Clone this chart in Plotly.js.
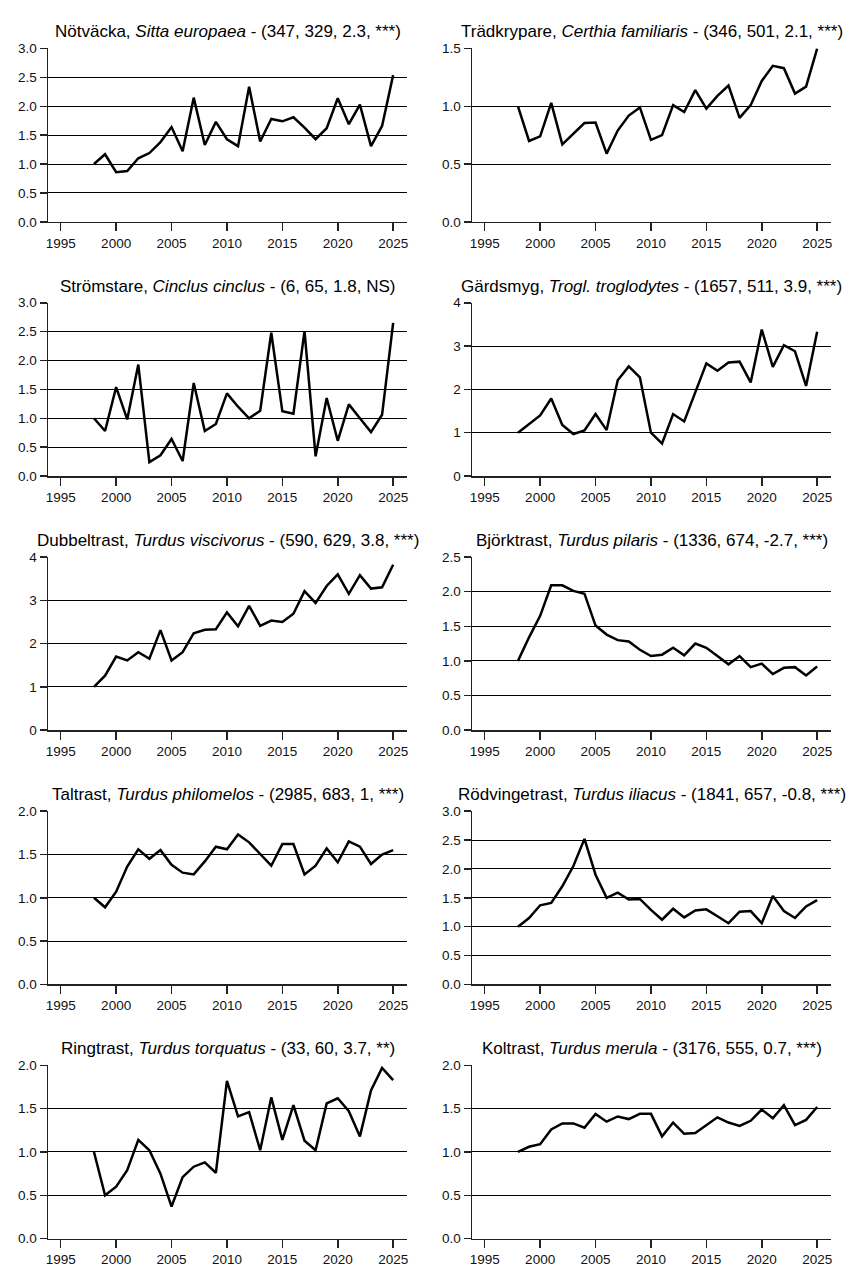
<!DOCTYPE html>
<html>
<head>
<meta charset="utf-8">
<script src="https://cdn.plot.ly/plotly-3.0.1.min.js"></script>
<style>html,body{margin:0;padding:0;background:#fff;}#chart{width:848px;height:1272px;}</style>
</head>
<body>
<div id="chart"></div>
<script>
const years = [1998,1999,2000,2001,2002,2003,2004,2005,2006,2007,2008,2009,2010,2011,2012,2013,2014,2015,2016,2017,2018,2019,2020,2021,2022,2023,2024,2025];

const titles = [
  "Nötväcka, <i>Sitta europaea</i> - (347, 329, 2.3, ***)",
  "Trädkrypare, <i>Certhia familiaris</i> - (346, 501, 2.1, ***)",
  "Strömstare, <i>Cinclus cinclus</i> - (6, 65, 1.8, NS)",
  "Gärdsmyg, <i>Trogl. troglodytes</i> - (1657, 511, 3.9, ***)",
  "Dubbeltrast, <i>Turdus viscivorus</i> - (590, 629, 3.8, ***)",
  "Björktrast, <i>Turdus pilaris</i> - (1336, 674, -2.7, ***)",
  "Taltrast, <i>Turdus philomelos</i> - (2985, 683, 1, ***)",
  "Rödvingetrast, <i>Turdus iliacus</i> - (1841, 657, -0.8, ***)",
  "Ringtrast, <i>Turdus torquatus</i> - (33, 60, 3.7, **)",
  "Koltrast, <i>Turdus merula</i> - (3176, 555, 0.7, ***)"
];

const notvacka     = [1.00,1.17,0.86,0.88,1.10,1.19,1.38,1.64,1.22,2.15,1.33,1.73,1.43,1.31,2.34,1.39,1.78,1.74,1.81,1.63,1.43,1.62,2.14,1.69,2.03,1.31,1.66,2.54];
const tradkrypare  = [1.00,0.70,0.74,1.03,0.67,0.76,0.855,0.86,0.59,0.79,0.92,0.99,0.71,0.75,1.01,0.95,1.14,0.98,1.09,1.18,0.90,1.01,1.22,1.35,1.33,1.11,1.17,1.50];
const stromstare   = [1.00,0.78,1.54,0.98,1.93,0.24,0.36,0.64,0.26,1.61,0.78,0.90,1.43,1.20,1.00,1.13,2.48,1.12,1.08,2.51,0.34,1.35,0.61,1.24,1.00,0.76,1.06,2.65];
const gardsmyg     = [1.00,1.20,1.40,1.79,1.18,0.97,1.05,1.43,1.06,2.21,2.53,2.28,1.00,0.75,1.43,1.26,1.95,2.60,2.43,2.62,2.64,2.16,3.38,2.52,3.02,2.88,2.08,3.33];
const dubbeltrast  = [1.00,1.26,1.70,1.61,1.80,1.65,2.31,1.61,1.80,2.24,2.32,2.33,2.72,2.40,2.87,2.41,2.53,2.50,2.69,3.21,2.94,3.33,3.60,3.15,3.58,3.27,3.30,3.82];
const bjorktrast   = [1.00,1.34,1.65,2.09,2.09,2.01,1.97,1.51,1.38,1.30,1.28,1.16,1.07,1.09,1.19,1.08,1.25,1.19,1.07,0.95,1.07,0.91,0.96,0.81,0.90,0.91,0.79,0.92];
const taltrast     = [1.00,0.89,1.07,1.36,1.56,1.45,1.55,1.38,1.29,1.27,1.42,1.59,1.56,1.73,1.64,1.51,1.37,1.62,1.62,1.27,1.37,1.57,1.41,1.65,1.59,1.39,1.50,1.55];
const rodvingetrast= [1.00,1.15,1.37,1.41,1.70,2.05,2.52,1.90,1.50,1.59,1.47,1.48,1.29,1.12,1.31,1.16,1.28,1.30,1.18,1.06,1.26,1.27,1.06,1.53,1.27,1.15,1.35,1.46];
const ringtrast    = [1.00,0.50,0.60,0.79,1.14,1.02,0.75,0.37,0.71,0.83,0.88,0.76,1.82,1.41,1.46,1.02,1.63,1.14,1.54,1.13,1.02,1.56,1.62,1.47,1.18,1.71,1.97,1.83];
const koltrast     = [1.00,1.06,1.09,1.26,1.33,1.33,1.28,1.44,1.35,1.41,1.38,1.44,1.44,1.18,1.34,1.21,1.22,1.31,1.40,1.34,1.30,1.36,1.49,1.39,1.54,1.31,1.37,1.52];

const series = [notvacka,tradkrypare,stromstare,gardsmyg,dubbeltrast,bjorktrast,taltrast,rodvingetrast,ringtrast,koltrast];
const yMax   = [3.0,1.5,3.0,4,4,2.5,2.0,3.0,2.0,2.0];
const yTicks = [
  [0,0.5,1,1.5,2,2.5,3],
  [0,0.5,1,1.5],
  [0,0.5,1,1.5,2,2.5,3],
  [0,1,2,3,4],
  [0,1,2,3,4],
  [0,0.5,1,1.5,2,2.5],
  [0,0.5,1,1.5,2],
  [0,0.5,1,1.5,2,2.5,3],
  [0,0.5,1,1.5,2],
  [0,0.5,1,1.5,2]
];
const yFmt = ['.1f','.1f','.1f','d','d','.1f','.1f','.1f','.1f','.1f'];
const xTicks = [1995,2000,2005,2010,2015,2020,2025];

const W = 848, H = 1272;
const font = "Liberation Sans, Arial, sans-serif";
const traces = [];
const layout = {
  width: W, height: H,
  margin: {l:0,r:0,t:0,b:0},
  paper_bgcolor: '#fff', plot_bgcolor: '#fff',
  showlegend: false,
  font: {family: font, color: '#000', size: 13},
  annotations: []
};

for (let i = 0; i < 10; i++) {
  const col = i % 2, row = Math.floor(i / 2);
  const x0 = col === 0 ? 48 : 472, x1 = col === 0 ? 407 : 831;
  const top = 48.3 + row * 254.2, bot = 221.8 + row * 254.2;
  const n = i === 0 ? '' : String(i + 1);
  traces.push({
    x: years, y: series[i], type: 'scatter', mode: 'lines',
    line: {color: '#000', width: 2.5},
    xaxis: 'x' + n, yaxis: 'y' + n, hoverinfo: 'skip'
  });
  layout['xaxis' + n] = {
    domain: [x0 / W, x1 / W],
    anchor: 'y' + n,
    range: [1993.85, 2026.25],
    tickvals: xTicks, ticktext: xTicks.map(String),
    ticks: 'outside', ticklen: 8, tickwidth: 1.5, tickcolor: '#222',
    showline: true, linecolor: '#222', linewidth: 1.5,
    showgrid: false, zeroline: false,
    tickfont: {family: font, size: 13.5, color: '#111'}
  };
  layout['yaxis' + n] = {
    domain: [1 - bot / H, 1 - top / H],
    anchor: 'x' + n,
    range: [0, yMax[i] * 1.0015],
    tickvals: yTicks[i],
    tickformat: yFmt[i],
    ticks: 'outside', ticklen: 7, tickwidth: 1.5, tickcolor: '#222',
    showline: true, linecolor: '#222', linewidth: 1.5,
    showgrid: true, gridcolor: '#000', gridwidth: 1,
    zeroline: false,
    tickfont: {family: font, size: 13.5, color: '#111'}
  };
  layout.annotations.push({
    text: titles[i], showarrow: false,
    xref: 'paper', yref: 'paper',
    x: (x0 + x1) / 2 / W, y: 1 - (32 + row * 254.2) / H,
    xanchor: 'center', yanchor: 'middle',
    font: {family: font, size: 17, color: '#000'}
  });
}

Plotly.newPlot('chart', traces, layout, {staticPlot: true});
</script>
</body>
</html>
